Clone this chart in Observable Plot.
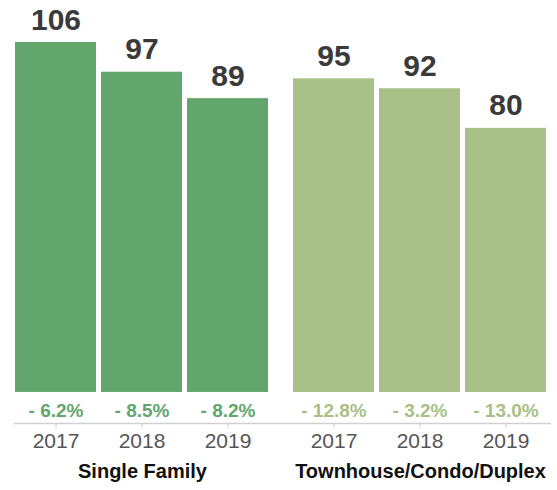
<!DOCTYPE html>
<html>
<head>
<meta charset="utf-8">
<script src="https://cdn.jsdelivr.net/npm/d3@7"></script>
<script src="https://cdn.jsdelivr.net/npm/@observablehq/plot@0.6"></script>
<style>
  html, body { margin: 0; padding: 0; background: #fff; }
  #chart svg { display: block; }
</style>
</head>
<body>
<div id="chart"></div>
<script>
const groups = ["Single Family", "Townhouse/Condo/Duplex"];
const years = ["2017", "2018", "2019"];
const singleFamily = [106, 97, 89];
const townhouse = [95, 92, 80];
const changeSingleFamily = ["- 6.2%", "- 8.5%", "- 8.2%"];
const changeTownhouse = ["- 12.8%", "- 3.2%", "- 13.0%"];
const groupColors = ["#62a66e", "#a8c087"];

const data = [];
[singleFamily, townhouse].forEach((vals, gi) => {
  vals.forEach((v, yi) => {
    data.push({
      group: groups[gi],
      year: years[yi],
      value: v,
      change: [changeSingleFamily, changeTownhouse][gi][yi]
    });
  });
});

const yDomain = [-9.4, 106];
const font = "'Liberation Sans', Arial, Helvetica, sans-serif";

const chart = Plot.plot({
  width: 557,
  height: 490,
  marginTop: 42,
  marginBottom: 67,
  marginLeft: 15,
  marginRight: 9,
  style: { fontFamily: font, background: "#fff" },
  fx: { domain: groups, paddingInner: 0.086, paddingOuter: 0, axis: null },
  x: { domain: years, paddingInner: 0.058, paddingOuter: 0, axis: null },
  y: { domain: yDomain, axis: null },
  color: { domain: groups, range: groupColors },
  marks: [
    Plot.barY(data, { fx: "group", x: "year", y: "value", fill: "group" }),
    Plot.text(data, {
      fx: "group", x: "year", y: "value", text: d => String(d.value),
      lineAnchor: "bottom", dy: -13, fontSize: 30, fontWeight: "bold", fill: "#3a3a3a"
    }),
    Plot.text(data, {
      fx: "group", x: "year", y: () => 0, text: "change",
      lineAnchor: "bottom", dy: 25, fontSize: 19, fontWeight: "bold", fill: "group"
    }),
    Plot.ruleY([yDomain[0]], { fx: [groups[0]], stroke: "#d0d0d0", strokeWidth: 1.5, insetLeft: -1, insetRight: -12 }),
    Plot.ruleY([yDomain[0]], { fx: [groups[1]], stroke: "#d0d0d0", strokeWidth: 1.5, insetLeft: -12, insetRight: -4 }),
    Plot.axisX({
      anchor: "bottom", tickSize: 5, tickPadding: 5, stroke: "#cccccc", fill: "#555",
      fontSize: 21, label: null
    }),
    Plot.axisFx({
      anchor: "bottom", tickSize: 0, tickPadding: 40, fill: "#111",
      fontSize: 20, fontWeight: "bold", label: null
    })
  ]
});

document.getElementById("chart").appendChild(chart);
</script>
</body>
</html>
